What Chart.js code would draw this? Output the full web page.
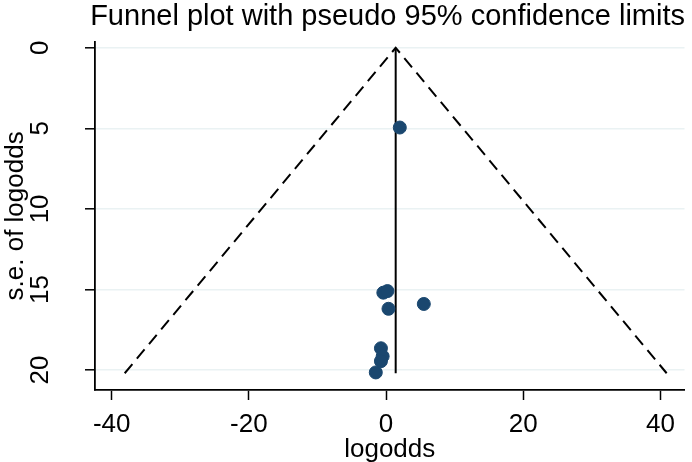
<!DOCTYPE html>
<html>
<head>
<meta charset="utf-8">
<script src="https://cdn.jsdelivr.net/npm/chart.js@4.4.1/dist/chart.umd.min.js"></script>
<style>
  body { margin: 0; background: #fff; }
  #wrap { width: 692px; height: 462px; }
</style>
</head>
<body>
<div id="wrap"><canvas id="funnel"></canvas></div>
<script>
// study estimates
const logodds = [2.0, -0.4, 0.2, 0.35, 5.5, -0.75, -0.5, -0.75, -1.5];
const seLogodds = [4.95, 15.2, 15.1, 16.2, 15.9, 18.65, 19.15, 19.45, 20.15];

// pseudo 95% limits: bottom-left, apex, bottom-right
const limitX = [-38.1, 1.4, 40.9];
const limitY = [20.2, 0, 20.2];

// pooled estimate line
const pooledX = [1.4, 1.4];
const pooledY = [0, 20.2];

const xTicks = [-40, -20, 0, 20, 40];
const yTicks = [0, 5, 10, 15, 20];

const fontFamily = "'Liberation Sans', Arial, Helvetica, sans-serif";

function toPoints(xs, ys) {
    return xs.map((x, i) => ({ x: x, y: ys[i] }));
}

new Chart(document.getElementById('funnel'), {
    type: 'scatter',
    data: {
        datasets: [
            {
                data: toPoints(logodds, seLogodds),
                backgroundColor: '#1a476f',
                borderColor: '#1a476f',
                pointRadius: 6.5,
                order: 0
            },
            {
                type: 'line',
                data: toPoints(limitX, limitY),
                borderColor: '#000',
                borderWidth: 2,
                borderDash: [12, 7],
                pointRadius: 0,
                fill: false,
                order: 1
            },
            {
                type: 'line',
                data: toPoints(pooledX, pooledY),
                borderColor: '#000',
                borderWidth: 2,
                pointRadius: 0,
                fill: false,
                order: 1
            }
        ]
    },
    options: {
        responsive: true,
        maintainAspectRatio: false,
        animation: false,
        layout: { padding: { right: 7, left: 0, top: 0, bottom: 0 } },
        plugins: {
            legend: { display: false },
            tooltip: { enabled: false },
            title: {
                display: true,
                text: 'Funnel plot with pseudo 95% confidence limits',
                align: 'end',
                color: '#000',
                font: { family: fontFamily, size: 29, weight: 'normal', lineHeight: 1.2 },
                padding: { top: 0, bottom: 7 }
            }
        },
        scales: {
            x: {
                type: 'linear',
                min: -42.43,
                max: 43.5,
                afterBuildTicks: (scale) => { scale.ticks = xTicks.map(v => ({ value: v })); },
                afterFit: (scale) => { scale.height = 72; },
                border: { color: '#000', width: 1.8 },
                grid: { drawOnChartArea: false, drawTicks: true, tickLength: 10, tickColor: '#000', tickWidth: 1.5 },
                ticks: { color: '#000', font: { family: fontFamily, size: 26 }, padding: 9, maxRotation: 0 },
                title: { display: true, text: 'logodds', color: '#000', font: { family: fontFamily, size: 26 }, padding: { top: 0, bottom: -3 } }
            },
            y: {
                type: 'linear',
                reverse: true,
                min: -0.37,
                max: 21.24,
                afterBuildTicks: (scale) => { scale.ticks = yTicks.map(v => ({ value: v })); },
                afterFit: (scale) => {
                    scale.width = 95;
                    scale.paddingTop = 0;
                    scale.paddingBottom = 0;
                },
                border: { color: '#000', width: 1.8 },
                grid: { color: '#eaf2f3', lineWidth: 1.6, tickLength: 10, tickColor: '#000', tickWidth: 1.5 },
                ticks: { color: '#000', font: { family: fontFamily, size: 26 }, minRotation: 90, maxRotation: 90, crossAlign: 'center', padding: 30 },
                title: { display: true, text: 's.e. of logodds', color: '#000', font: { family: fontFamily, size: 26 }, padding: { top: 0, bottom: 0 } }
            }
        }
    }
});
</script>
</body>
</html>
